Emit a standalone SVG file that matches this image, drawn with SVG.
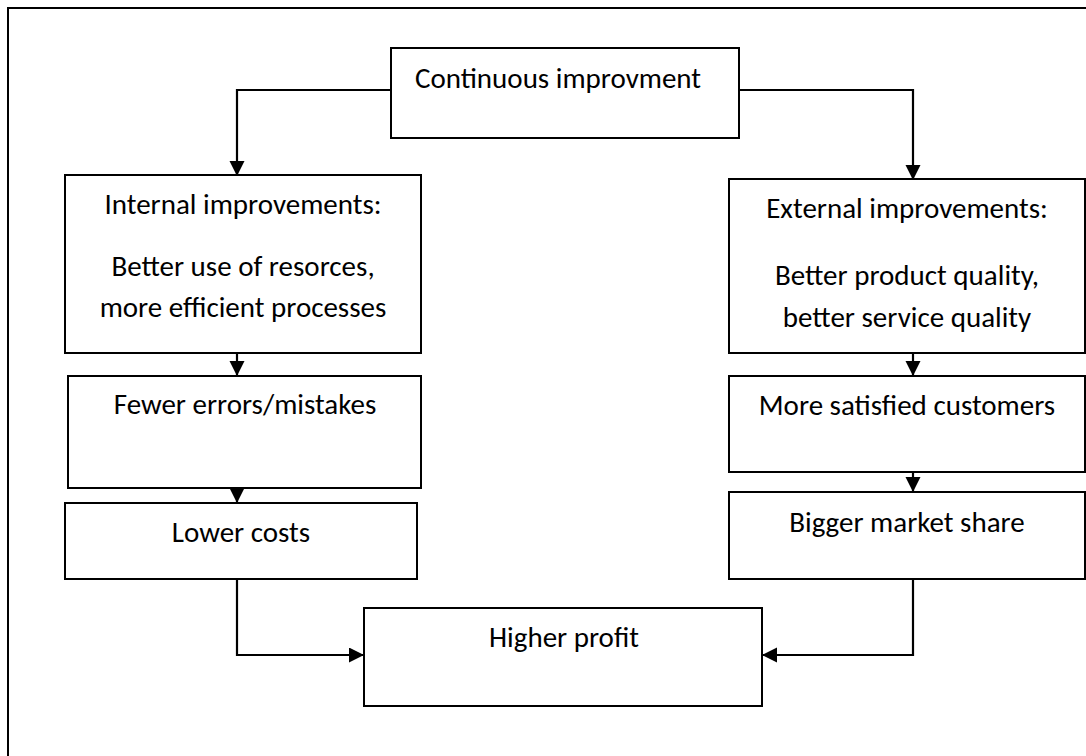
<svg xmlns="http://www.w3.org/2000/svg" width="1086" height="756" viewBox="0 0 1086 756">
<style>
.box{fill:#fff;stroke:#000;stroke-width:2}
.frame{fill:none;stroke:#000;stroke-width:2}
.t{font-family:Carlito,Calibri,Lato,"Liberation Sans",sans-serif;font-size:29px;fill:#000;text-anchor:middle}
.c{fill:none;stroke:#000;stroke-width:2.2}
</style>
<defs>
<marker id="ah" markerUnits="userSpaceOnUse" markerWidth="16" markerHeight="16" refX="15" refY="7.5" orient="auto">
<path d="M0,0 L15,7.5 L0,15 z" fill="#000"/>
</marker>
</defs>
<rect width="1086" height="756" fill="#fff"/>
<rect id="frame" class="frame" x="8" y="8" width="1110" height="780"/>
<g id="connectors">
<path class="c" d="M391,90 H237 V176" marker-end="url(#ah)"/>
<path class="c" d="M739,90 H913 V180" marker-end="url(#ah)"/>
<path class="c" d="M237,347 V376" marker-end="url(#ah)"/>
<path class="c" d="M237,482 V503" marker-end="url(#ah)"/>
<path class="c" d="M913,347 V376" marker-end="url(#ah)"/>
<path class="c" d="M913,467 V492" marker-end="url(#ah)"/>
<path class="c" d="M237,576 V655 H364" marker-end="url(#ah)"/>
<path class="c" d="M913,576 V655 H762" marker-end="url(#ah)"/>
</g>
<g id="n-continuous">
<rect class="box" x="391" y="48" width="348" height="90"/>
<text class="t" x="558" y="88">Continuous improvment</text>
</g>
<g id="n-internal">
<rect class="box" x="65" y="175" width="356" height="178"/>
<text class="t" x="243" y="214">Internal improvements:</text>
<text class="t" x="243" y="276">Better use of resorces,</text>
<text class="t" x="243" y="317">more efficient processes</text>
</g>
<g id="n-fewer">
<rect class="box" x="68" y="376" width="353" height="112"/>
<text class="t" x="245" y="414">Fewer errors/mistakes</text>
</g>
<g id="n-lower">
<rect class="box" x="65" y="503" width="352" height="76"/>
<text class="t" x="241" y="542">Lower costs</text>
</g>
<g id="n-external">
<rect class="box" x="729" y="179" width="356" height="174"/>
<text class="t" x="907" y="218">External improvements:</text>
<text class="t" x="907" y="285">Better product quality,</text>
<text class="t" x="907" y="327">better service quality</text>
</g>
<g id="n-satisfied">
<rect class="box" x="729" y="376" width="356" height="96"/>
<text class="t" x="907" y="415">More satisfied customers</text>
</g>
<g id="n-market">
<rect class="box" x="729" y="492" width="356" height="87"/>
<text class="t" x="907" y="532">Bigger market share</text>
</g>
<g id="n-profit">
<rect class="box" x="364" y="608" width="398" height="98"/>
<text class="t" x="564" y="647">Higher profit</text>
</g>
</svg>
